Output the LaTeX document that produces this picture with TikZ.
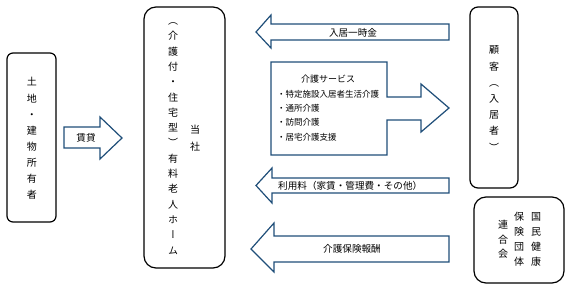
\documentclass[tikz,border=0pt]{standalone}
\usepackage{fontspec}
\setmainfont{Noto Sans CJK JP}
\newfontfamily\jp{Noto Sans CJK JP}
\newfontfamily\jpv[RawFeature=+vert]{Noto Sans CJK JP}
\definecolor{arrowblue}{HTML}{1F4E79}
\begin{document}
\begin{tikzpicture}[x=1pt,y=-1pt,
  box/.style={draw=black,line width=1.2pt},
  blockarrow/.style={draw=arrowblue,line width=1.2pt,fill=white,line join=miter},
  vtext/.style={inner sep=0pt,align=center,font=\jpv\fontsize{10}{#1}\selectfont},
  htext/.style={inner sep=0pt,font=\jp\fontsize{9.6}{12}\selectfont}]
\useasboundingbox (0,0) rectangle (571,289);
% boxes
\draw[box,rounded corners=6pt] (7,53) rectangle (56,222);
\draw[box,rounded corners=12pt] (144,7) rectangle (225,268);
\draw[box,rounded corners=8pt] (470,7) rectangle (518,188);
\draw[box,rounded corners=12pt] (474,197) rectangle (564,283);
% block arrows
\draw[blockarrow] (64,127) -- (100,127) -- (100,117) -- (122,138) -- (100,159) -- (100,148) -- (64,148) -- cycle;
\draw[blockarrow] (449,24) -- (271,24) -- (271,15) -- (256,32) -- (271,48) -- (271,40) -- (449,40) -- cycle;
\draw[blockarrow] (271,62) -- (387,62) -- (387,97) -- (421,97) -- (421,84) -- (449,108) -- (421,132) -- (421,120) -- (387,120) -- (387,155) -- (271,155) -- cycle;
\draw[blockarrow] (449,178) -- (272,178) -- (272,168) -- (256,185.5) -- (272,203) -- (272,193) -- (449,193) -- cycle;
\draw[blockarrow] (449,236) -- (274,236) -- (274,223) -- (251,249) -- (274,272) -- (274,262) -- (449,262) -- cycle;
% texts
\node[vtext=16.1] (owner) at (32,138.5) {土\\地\\・\\建\\物\\所\\有\\者};
\node[htext] (lease) at (86,138) {賃貸};
\node[vtext=15.3] (home) at (173,138.5) {（\\介\\護\\付\\・\\住\\宅\\型\\）\\有\\料\\老\\人\\ホ\\ー\\ム};
\node[vtext=17.4] (company) at (195,138) {当\\社};
\node[vtext=16.2] (customer) at (494,98.6) {顧\\客\\（\\入\\居\\者\\）};
\node[htext] (deposit) at (353,33) {入居一時金};
\node[htext,font=\jp\fontsize{9}{12}\selectfont] (service) at (328,79) {介護サービス};
\node[inner sep=0pt,anchor=west,align=left,font=\jp\fontsize{8.5}{14.3}\selectfont] (list) at (277,115.5)
  {・特定施設入居者生活介護\\・通所介護\\・訪問介護\\・居宅介護支援};
\node[htext,anchor=west] (fee) at (278,186) {利用料（家賃・管理費・その他）};
\node[htext] (reward) at (352,249) {介護保険報酬};
\node[vtext=15] (kokuho1) at (536,239.5) {国\\民\\健\\康};
\node[vtext=15] (kokuho2) at (519,239.5) {保\\険\\団\\体};
\node[vtext=14.5] (kokuho3) at (503,239.5) {連\\合\\会};
\end{tikzpicture}
\end{document}
